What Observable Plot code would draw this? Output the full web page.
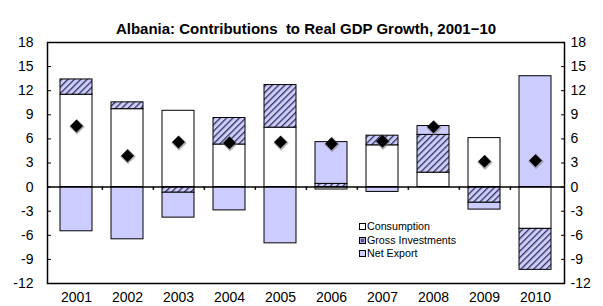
<!DOCTYPE html>
<html><head><meta charset="utf-8">
<script src="https://cdn.jsdelivr.net/npm/d3@7"></script>
<script src="https://cdn.jsdelivr.net/npm/@observablehq/plot@0.6"></script>
<style>
body{margin:0;background:#fff;font-family:Arial,"Liberation Sans",sans-serif;}
#chart{position:relative;width:603px;height:306px;}
.legend{position:absolute;left:359px;top:220px;font-size:10.7px;line-height:13.5px;color:#000}
.legend div{display:flex;align-items:center;white-space:nowrap}
.sw{width:5px;height:5px;border:1px solid #000;margin-right:1px;box-sizing:content-box}
</style></head><body><div id="chart"></div>
<script>
const years = ["2001","2002","2003","2004","2005","2006","2007","2008","2009","2010"];
const consumption = [11.5, 9.7, 9.5, 5.3, 7.4, -0.3, 5.2, 1.8, 6.1, -5.2];
const investment  = [1.9, 0.85, -0.7, 3.3, 5.3, 0.4, 1.2, 4.7, -1.95, -5.1];
const netExport   = [-5.5, -6.5, -3.1, -2.9, -7.0, 5.2, -0.6, 1.1, -0.85, 13.8];
const growth      = [7.6, 3.9, 5.6, 5.5, 5.6, 5.4, 5.7, 7.5, 3.2, 3.3];
const seriesNames = ["Consumption","Gross Investments","Net Export"];
const seriesColors = ["#ffffff","url(#hatch)","#ccccff"];
const yTicks = [-12,-9,-6,-3,0,3,6,9,12,15,18];
const title = "Albania: Contributions  to Real GDP Growth, 2001\u221210";

const rows = [];
[consumption, investment, netExport].forEach((arr,k)=>arr.forEach((v,i)=>rows.push({year:years[i], series:seriesNames[k], value:v})));
const dots = years.map((y,i)=>({year:y, value:growth[i]}));

const W=603,H=306,mL=47,mR=39,mT=42,mB=23;
const step=(W-mL-mR)/years.length;

const plot = Plot.plot({
  width:W,height:H,marginLeft:mL,marginRight:mR,marginTop:mT,marginBottom:mB,
  style:{fontFamily:"Arial, 'Liberation Sans', sans-serif",fontSize:"14px",background:"#fff",overflow:"visible"},
  x:{type:"band",domain:years,paddingInner:0.37,paddingOuter:0.185,label:null},
  y:{domain:[-12,18],label:null},
  color:{domain:seriesNames,range:seriesColors},
  marks:[
    Plot.barY(rows,{x:"year",y:"value",fill:"series",stroke:"#000",strokeWidth:1}),
    Plot.ruleY([0],{stroke:"#000",strokeWidth:1.5}),
    Plot.ruleX(years.slice(0,-1),{x:d=>d,y1:0,y2:-0.4,dx:step/2,stroke:"#000",strokeWidth:1.5}),
    Plot.dot(dots,{x:"year",y:"value",symbol:"diamond2",r:7,fill:"#777",opacity:0.55,dx:0.5,dy:0.8}),
    Plot.dot(dots,{x:"year",y:"value",symbol:"diamond2",r:5.8,fill:"#000"}),
    Plot.frame({stroke:"#000",strokeWidth:1.5}),
    Plot.axisY(yTicks,{anchor:"left",tickSize:-4,tickPadding:18,tickFormat:d=>String(d),fontSize:14}),
    Plot.axisY(yTicks,{anchor:"right",tickSize:-4,tickPadding:10,tickFormat:d=>String(d),fontSize:14}),
    Plot.axisX({anchor:"bottom",tickSize:0,tickPadding:9,fontSize:14}),
    Plot.text([title],{frameAnchor:"top",dy:-19,fontWeight:"bold",fontSize:15})
  ]
});
const svg=d3.select(plot);
const defs=svg.insert("defs",":first-child");
const pat=defs.append("pattern").attr("id","hatch").attr("patternUnits","userSpaceOnUse")
  .attr("width",4.5).attr("height",4.5).attr("patternTransform","rotate(45)");
pat.append("rect").attr("width",4.5).attr("height",4.5).attr("fill","#ccccff");
pat.append("rect").attr("width",1.3).attr("height",4.5).attr("fill","#333355");
document.getElementById("chart").appendChild(plot);

const leg=d3.select("#chart").append("div").attr("class","legend");
const swStyles=["background:#fff","background:#55557a;box-shadow:inset 0 0 0 1px #aaaadd","background:#ccccff"];
seriesNames.forEach((n,i)=>{
  const r=leg.append("div");
  r.append("span").attr("class","sw").attr("style",swStyles[i]);
  r.append("span").text(n);
});
</script></body></html>
